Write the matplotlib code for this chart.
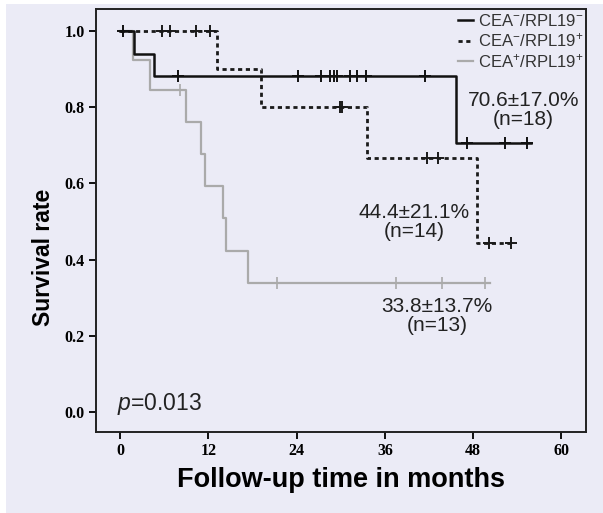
"""
Kaplan-Meier style survival curves for CEA/RPL19 expression groups.
"""
import numpy as np
import matplotlib.pyplot as plt
from matplotlib.patches import Rectangle

plt.rcParams["mathtext.fontset"] = "custom"
plt.rcParams["mathtext.rm"] = "Liberation Sans"
plt.rcParams["mathtext.it"] = "Liberation Sans:italic"

BG = "#ebebf6"

# --- data (months, survival) ---
neg_neg_times = [0, 1.9, 4.6, 45.7]
neg_neg_surv = [1.0, 0.941, 0.882, 0.706]
neg_neg_end = 55.9
neg_neg_censor = [0.4, 7.9, 24.2, 27.3, 28.6, 29.1, 29.5, 31.25, 32.2, 33.4,
                  41.4, 47.1, 52.3, 55.3]

neg_pos_times = [0, 13.2, 19.2, 33.6, 48.5]
neg_pos_surv = [1.0, 0.9, 0.8, 0.667, 0.444]
neg_pos_end = 53.6
neg_pos_censor = [5.7, 6.8, 10.3, 12.2, 29.9, 30.2, 41.7, 43.2, 50.2, 53.2]

pos_pos_times = [0, 1.8, 4.1, 9.0, 11.0, 11.6, 14.0, 14.4, 17.4]
pos_pos_surv = [1.0, 0.923, 0.846, 0.761, 0.677, 0.592, 0.508, 0.423, 0.338]
pos_pos_end = 50.3
pos_pos_censor = [8.2, 21.4, 37.5, 43.8, 49.6]

labels = [r"CEA$^{-}$/RPL19$^{-}$", r"CEA$^{-}$/RPL19$^{+}$", r"CEA$^{+}$/RPL19$^{+}$"]
annot_text = ["70.6±17.0%\n(n=18)", "44.4±21.1%\n(n=14)", "33.8±13.7%\n(n=13)"]
annot_x = [54.8, 40.0, 43.1]
annot_y = [0.793, 0.50, 0.252]

x_ticks = [0, 12, 24, 36, 48, 60]
y_ticks = [0.0, 0.2, 0.4, 0.6, 0.8, 1.0]


def surv_at(times, surv, t):
    idx = np.searchsorted(times, t, side="right") - 1
    return np.asarray(surv)[idx]


def draw_curve(ax, times, surv, end, censor, color, ls, lw, mew, label):
    t = list(times) + [end]
    s = list(surv) + [surv[-1]]
    ax.step(t, s, where="post", color=color, linestyle=ls, linewidth=lw,
            label=label, zorder=3)
    ax.plot(censor, surv_at(times, surv, censor), linestyle="none", marker="+",
            markersize=9, markeredgewidth=mew, color=color, zorder=4)


fig = plt.figure(figsize=(6.03, 5.13), dpi=100, facecolor="white")
fig.add_artist(Rectangle((6 / 603, 0), 1, (513 - 4) / 513,
                         transform=fig.transFigure, facecolor=BG,
                         edgecolor="none", zorder=-10))
ax = fig.add_axes([96 / 603, 81 / 513, 490 / 603, 423 / 513])
ax.set_facecolor(BG)

draw_curve(ax, pos_pos_times, pos_pos_surv, pos_pos_end, pos_pos_censor,
           "#aaaaaa", "-", 1.6, 1.2, labels[2])
draw_curve(ax, neg_pos_times, neg_pos_surv, neg_pos_end, neg_pos_censor,
           "#1a1a1a", (0, (1.5, 1.3)), 2.0, 1.4, labels[1])
draw_curve(ax, neg_neg_times, neg_neg_surv, neg_neg_end, neg_neg_censor,
           "#111111", "-", 1.8, 1.4, labels[0])

for txt, x, y in zip(annot_text, annot_x, annot_y):
    ax.text(x, y, txt, ha="center", va="center", fontsize=15,
            family="Liberation Sans", color="#222222", linespacing=1.0)

ax.text(-0.4, 0.004, r"$\mathit{p}$=0.013", ha="left", va="baseline",
        fontsize=16.5, family="Liberation Sans", color="#222222")

handles, lbls = ax.get_legend_handles_labels()
order = [lbls.index(l) for l in labels]
leg = ax.legend([handles[i] for i in order], [lbls[i] for i in order],
                loc="upper right", bbox_to_anchor=(0.994, 0.99), frameon=False,
                handlelength=0.85, handletextpad=0.3, labelspacing=0.15,
                borderpad=0, borderaxespad=0,
                prop={"family": "Liberation Sans", "size": 12})
for t in leg.get_texts():
    t.set_color("#333333")

ax.set_xlim(-3.26, 63.33)
ax.set_ylim(-0.0526, 1.058)
ax.set_xticks(x_ticks)
ax.set_yticks(y_ticks)
ax.set_yticklabels([f"{v:.1f}" for v in y_ticks])
ax.tick_params(direction="out", length=5, width=1.4, color="#111111", pad=3)
for lab in ax.get_xticklabels() + ax.get_yticklabels():
    lab.set_family("Liberation Serif")
    lab.set_fontweight("bold")
    lab.set_fontsize(11.5)
for sp in ax.spines.values():
    sp.set_linewidth(1.4)
    sp.set_color("#222222")

ax.set_xlabel("Follow-up time in months", fontsize=19.5, fontweight="bold",
              family="Liberation Sans", labelpad=6)
ax.set_ylabel("Survival rate", fontsize=16.5, fontweight="bold",
              family="Liberation Sans")
ax.yaxis.set_label_coords(-0.084, 0.414)

fig.savefig("out.png", dpi=100, facecolor=fig.get_facecolor())
